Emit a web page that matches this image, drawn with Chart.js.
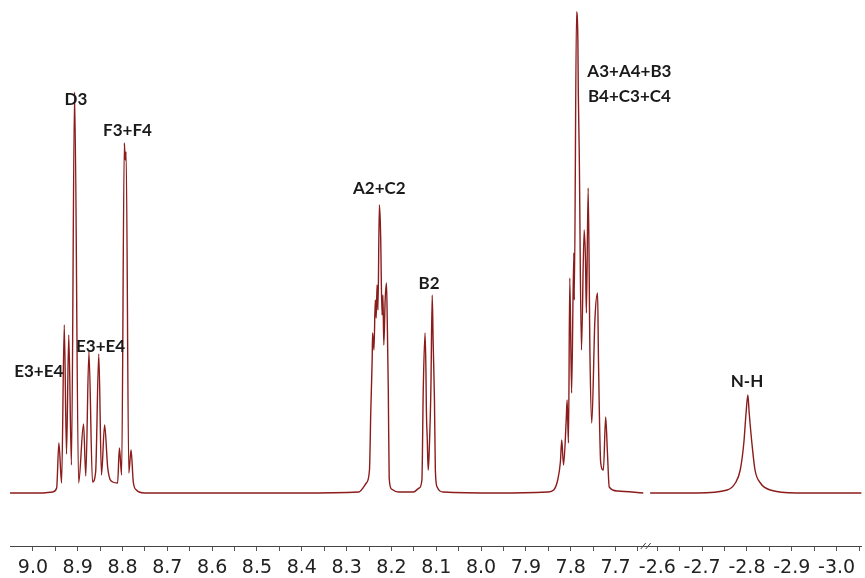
<!DOCTYPE html>
<html>
<head>
<meta charset="utf-8">
<script src="https://cdn.jsdelivr.net/npm/chart.js@4"></script>
<style>
  body { margin: 0; background: #fff; }
  #wrap { width: 865px; height: 578px; }
</style>
</head>
<body>
<div id="wrap"><canvas id="nmr"></canvas></div>
<script>
// chemical shift (ppm) and intensity, left part (9.05 -> 7.64)
const leftShift = [
  9.051, 8.984, 8.956, 8.947, 8.942, 8.936, 8.930, 8.925, 8.920, 8.914,
  8.907, 8.898, 8.887, 8.882, 8.875, 8.867, 8.860, 8.853, 8.847, 8.840,
  8.833, 8.822, 8.811, 8.807, 8.802, 8.796, 8.794, 8.792, 8.786, 8.781,
  8.776, 8.769, 8.751, 8.740, 8.407, 8.273,
  8.256, 8.249, 8.246, 8.243, 8.242, 8.239, 8.236, 8.234, 8.232, 8.230,
  8.227, 8.225, 8.224, 8.221, 8.219, 8.217, 8.214, 8.211, 8.209, 8.207,
  8.205, 8.200, 8.184,
  8.151, 8.138, 8.132, 8.129, 8.125, 8.123, 8.122, 8.120, 8.118, 8.116,
  8.112, 8.109, 8.107, 8.104, 8.102, 8.098, 8.084,
  7.962, 7.851,
  7.838, 7.829, 7.823, 7.820, 7.816, 7.810, 7.808, 7.805, 7.802, 7.798,
  7.793, 7.792, 7.787, 7.784, 7.783, 7.781, 7.776, 7.770, 7.767, 7.765,
  7.761, 7.757, 7.753, 7.746, 7.740, 7.738, 7.733, 7.727, 7.722, 7.718,
  7.714, 7.696, 7.638
]
const leftIntensity = [
  0, 0, 1, 5, 50, 10, 168, 39, 158, 28,
  401, 10, 69, 17, 141, 11, 21, 139, 18, 68,
  25, 11, 10, 45, 18, 350, 333, 341, 20, 43,
  11, 3, 0, 0, 0, 1,
  10, 23, 83, 133, 160, 143, 193, 175, 208, 183,
  288, 273, 256, 178, 198, 148, 193, 210, 163, 103,
  15, 4, 1,
  1, 5, 13, 103, 160, 123, 83, 53, 23, 38,
  103, 198, 153, 93, 23, 6, 1,
  0, 1,
  3, 13, 31, 53, 28, 73, 93, 50, 215, 100,
  240, 193, 481, 453, 400, 343, 143, 263, 233, 180,
  305, 138, 70, 173, 200, 133, 30, 23, 76, 40,
  6, 2, 0
]
// right part after the axis break (-2.58 -> -3.06)
const rightShift = [
  -2.584, -2.689, -2.756, -2.774, -2.785, -2.793, -2.798, -2.802, -2.805,
  -2.811, -2.818, -2.830, -2.852, -2.911, -3.056
]
const rightIntensity = [0, 0, 3, 10, 23, 50, 80, 98, 80, 50, 23, 10, 3, 0, 0]

// axis ticks
const majorLeft = [9.0, 8.9, 8.8, 8.7, 8.6, 8.5, 8.4, 8.3, 8.2, 8.1, 8.0, 7.9, 7.8, 7.7]
const majorRight = [-2.6, -2.7, -2.8, -2.9, -3.0]
const minorTicks = [8.95, 8.85, 8.75, 8.65, 8.55, 8.45, 8.35, 8.25, 8.15, 8.05, 7.95, 7.85, 7.75, 7.65,
  -2.65, -2.75, -2.85, -2.95, -3.05]

// peak assignments: text, ppm, intensity where the label sits
const peakLabels = ['E3+E4', 'D3', 'E3+E4', 'F3+F4', 'A2+C2', 'B2', 'A3+A4+B3', 'B4+C3+C4', 'N-H']
const labelShift = [8.987, 8.904, 8.849, 8.789, 8.227, 8.116, 7.669, 7.669, -2.80]
const labelIntensity = [121, 393, 146, 362, 304, 209, 421, 396, 111]

// broken axis: 9.0 -> 7.7 then a short gap then -2.6 -> -3.0
const leftStart = 9.0, breakLeft = 7.7, breakRight = -2.6, gap = 0.0933
function toU(ppm) {
  if (ppm > 0) return leftStart - ppm
  return (leftStart - breakLeft) + gap + (breakRight - ppm)
}

const lineColor = '#8b1c1c'
const mkData = (xs, ys) => xs.map((p, i) => ({ x: toU(p), y: ys[i] }))

const tickList = []
majorLeft.concat(majorRight).forEach(v => tickList.push({ value: toU(v), txt: v.toFixed(1) }))
minorTicks.forEach(v => tickList.push({ value: toU(v), txt: '' }))
tickList.sort((a, b) => a.value - b.value)

const breakU = (toU(leftShift[leftShift.length - 1]) + toU(rightShift[0])) / 2

const extras = {
  id: 'extras',
  afterDraw(chart) {
    const ctx = chart.ctx
    const xs = chart.scales.x, ys = chart.scales.y
    ctx.save()
    // axis break mark
    const bx = xs.getPixelForValue(breakU)
    const by = chart.chartArea.bottom
    ctx.strokeStyle = '#444'
    ctx.lineWidth = 1
    ctx.beginPath()
    ctx.moveTo(bx - 6, by + 3); ctx.lineTo(bx - 1, by - 3)
    ctx.moveTo(bx - 1, by + 3); ctx.lineTo(bx + 4, by - 3)
    ctx.stroke()
    // labels
    ctx.font = 'bold 17px Lato'
    ctx.fillStyle = '#1a1a1a'
    ctx.textAlign = 'center'
    ctx.textBaseline = 'middle'
    peakLabels.forEach((t, i) => {
      ctx.fillText(t, xs.getPixelForValue(toU(labelShift[i])), ys.getPixelForValue(labelIntensity[i]))
    })
    ctx.restore()
  }
}

new Chart(document.getElementById('nmr'), {
  type: 'line',
  data: {
    datasets: [
      { data: mkData(leftShift, leftIntensity) },
      { data: mkData(rightShift, rightIntensity) }
    ]
  },
  options: {
    responsive: true,
    maintainAspectRatio: false,
    animation: false,
    layout: { padding: { left: 10, right: 0, top: 10, bottom: 0 } },
    elements: {
      point: { radius: 0 },
      line: { borderColor: lineColor, borderWidth: 1.4, cubicInterpolationMode: 'monotone', fill: false }
    },
    plugins: { legend: { display: false }, tooltip: { enabled: false } },
    scales: {
      x: {
        type: 'linear',
        min: -0.0511,
        max: 1.8489,
        afterBuildTicks: (scale) => { scale.ticks = tickList.map(t => ({ value: t.value, txt: t.txt })) },
        afterFit: (scale) => { scale.height = 32 },
        ticks: {
          autoSkip: false,
          maxRotation: 0,
          padding: 6,
          color: '#222',
          font: { family: 'DejaVu Sans', size: 19 },
          callback: (v, i, ticks) => ticks[i].txt
        },
        grid: { drawOnChartArea: false, drawTicks: true, tickLength: 5, tickColor: '#555' },
        border: { display: true, color: '#444', width: 1 }
      },
      y: { display: false, min: -53, max: 483 }
    }
  },
  plugins: [extras]
})
</script>
</body>
</html>
